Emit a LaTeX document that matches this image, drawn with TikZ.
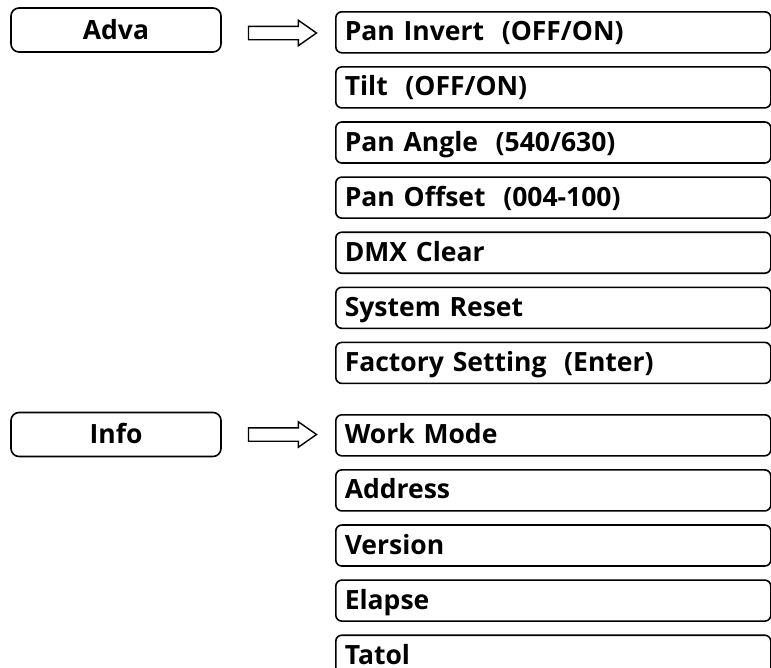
\documentclass[tikz,border=0pt]{standalone}
\usepackage{fontspec}
\setmainfont{Open Sans}
\usepackage{tikz}
\usetikzlibrary{positioning,shapes.arrows}

\begin{document}
\begin{tikzpicture}[x=1pt, y=1pt, node distance=12.5pt]
    % Styles
    \tikzstyle{menubox} = [rectangle, draw, line width=1.6pt, rounded corners=8pt, minimum width=210pt, minimum height=44pt, text height=18pt, text depth=0pt, font=\fontsize{26.5}{26.5}\selectfont\bfseries]
    \tikzstyle{itembox} = [rectangle, draw, line width=1.6pt, rounded corners=6pt, inner xsep=9pt, text width=417pt, align=left, minimum height=41pt, text height=17pt, text depth=0pt, font=\fontsize{26.5}{26.5}\selectfont\bfseries]
    \tikzstyle{blockarrow} = [single arrow, draw, line width=1.4pt, minimum height=68pt, minimum width=24pt, inner xsep=0pt, inner ysep=6pt, single arrow head extend=6pt, single arrow tip angle=70]

    \useasboundingbox (0,0) rectangle (771,-667);

    % Adva
    \node[menubox] (adva) at (116,-30) {Adva};
    \node[itembox, anchor=north west] (pan) at (335,-11) {Pan Invert\ \ (OFF/ON)};
    \node[itembox, below=of pan] (tilt) {Tilt\ \ (OFF/ON)};
    \node[itembox, below=of tilt] (angle) {Pan Angle\ \ (540/630)};
    \node[itembox, below=of angle] (offset) {Pan Offset\ \ (004-100)};
    \node[itembox, below=of offset] (dmx) {DMX Clear};
    \node[itembox, below=of dmx] (reset) {System Reset};
    \node[itembox, below=of reset] (factory) {Factory Setting\ \ (Enter)};
    \node[blockarrow, right=26pt of adva, yshift=-3pt] (advaarrow) {};

    % Info
    \node[menubox] (info) at (116,-434.5) {Info};
    \node[itembox, anchor=north west] (work) at (335,-414) {Work Mode};
    \node[itembox, below=of work] (address) {Address};
    \node[itembox, below=of address] (version) {Version};
    \node[itembox, below=of version] (elapse) {Elapse};
    \node[itembox, below=of elapse] (tatol) {Tatol};
    \node[blockarrow, right=26pt of info] (infoarrow) {};

\end{tikzpicture}
\end{document}
